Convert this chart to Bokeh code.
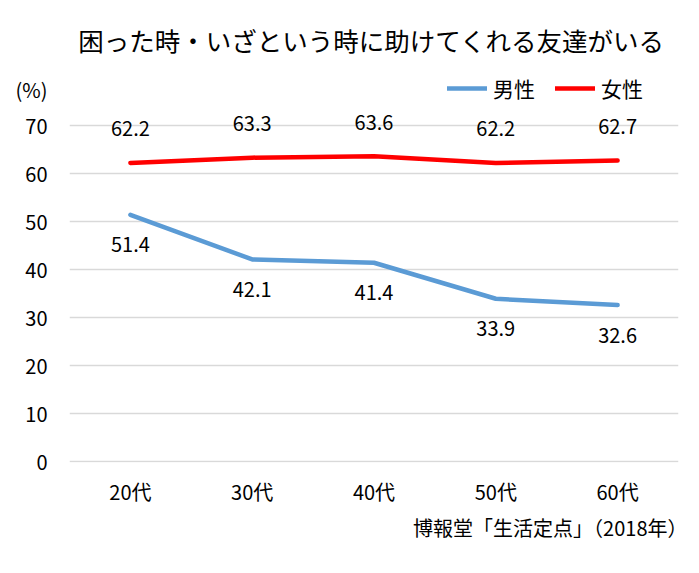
from bokeh.plotting import figure
from bokeh.models import (Range1d, FactorRange, Label, LabelSet, ColumnDataSource,
                          Legend, LegendItem, FixedTicker, Title)
from bokeh.core.properties import value
from bokeh.embed import file_html
from bokeh.resources import INLINE

# Survey data: share of people who have a friend to rely on in times of trouble (%)
ages = ["20代", "30代", "40代", "50代", "60代"]
male = [51.4, 42.1, 41.4, 33.9, 32.6]
female = [62.2, 63.3, 63.6, 62.2, 62.7]
y_ticks = [0, 10, 20, 30, 40, 50, 60, 70]
unit_tick = 77.5

title_text = "困った時・いざという時に助けてくれる友達がいる"
source_text = "博報堂「生活定点」（2018年）"
unit_text = "(%)"

FONT = "Noto Sans CJK JP"
MALE_COLOR = "#5B9BD5"
FEMALE_COLOR = "#FF0000"
TEXT_COLOR = "#000000"

# the plot area reaches up to the top so the heading and legend sit inside it
p = figure(width=699, height=573,
           x_range=FactorRange(*ages, range_padding=0),
           y_range=Range1d(-0.21, 93.96),
           output_backend="svg", toolbar_location=None,
           min_border_left=69, min_border_right=21,
           min_border_top=10, min_border_bottom=111)
p.outline_line_color = None
p.background_fill_color = "white"
p.border_fill_color = "white"

# axes
p.yaxis.ticker = FixedTicker(ticks=y_ticks + [unit_tick])
p.yaxis.major_label_overrides = {unit_tick: unit_text}
for ax in (p.xaxis[0], p.yaxis[0]):
    ax.axis_line_color = None
    ax.major_tick_line_color = None
    ax.minor_tick_line_color = None
    ax.major_tick_in = 0
    ax.major_tick_out = 0
    ax.major_label_text_font = FONT
    ax.major_label_text_font_size = "20px"
    ax.major_label_text_color = TEXT_COLOR
p.yaxis.major_label_standoff = 22
p.xaxis.major_label_standoff = 14

p.xgrid.grid_line_color = None
p.ygrid.ticker = FixedTicker(ticks=y_ticks)
p.ygrid.grid_line_color = "#D9D9D9"
p.ygrid.grid_line_width = 1.5

# series lines
r_m = p.line(x=ages, y=male, line_color=MALE_COLOR, line_width=4.5, line_cap="round")
r_f = p.line(x=ages, y=female, line_color=FEMALE_COLOR, line_width=4.5, line_cap="round")

# value labels
src_m = ColumnDataSource(dict(x=ages, y=male, t=[f"{v:.1f}" for v in male]))
src_f = ColumnDataSource(dict(x=ages, y=female, t=[f"{v:.1f}" for v in female]))
for src, off in ((src_m, -30), (src_f, 34)):
    p.add_layout(LabelSet(x="x", y="y", text="t", source=src, y_offset=off,
                          text_align="center", text_baseline="middle",
                          text_font=value(FONT), text_font_size=value("20px"),
                          text_color=TEXT_COLOR))

# legend
legend = Legend(items=[LegendItem(label="男性", renderers=[r_m]),
                       LegendItem(label="女性", renderers=[r_f])],
                orientation="horizontal", location=(378, 359),
                border_line_color=None, background_fill_alpha=0,
                padding=0, margin=0, spacing=20, glyph_width=40, glyph_height=28,
                label_standoff=6, label_text_font=FONT,
                label_text_font_size="21px", label_text_color=TEXT_COLOR)
p.add_layout(legend)

# heading
p.add_layout(Label(x=2.48, y=88.0, text=title_text, text_align="center",
                   text_baseline="middle", text_font=FONT, text_font_size="25.5px",
                   text_color=TEXT_COLOR))

# source note under the category labels
p.add_layout(Title(text=source_text, align="right", offset=-9, standoff=5,
                   text_font=FONT, text_font_size="20px", text_font_style="normal",
                   text_color=TEXT_COLOR), "below")

open("out.html", "w").write(file_html(p, INLINE))
